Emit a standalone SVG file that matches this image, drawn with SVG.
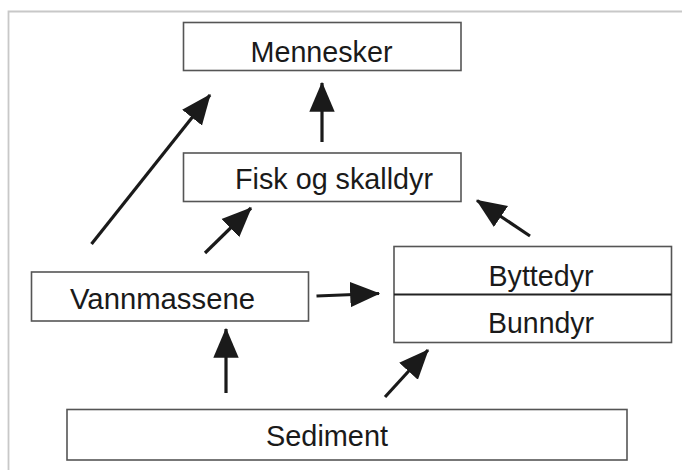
<svg xmlns="http://www.w3.org/2000/svg" width="682" height="470" viewBox="0 0 682 470">
<style>
.box{fill:#fff;stroke:#555;stroke-width:1.6}
.lbl{font-family:"Liberation Sans",Arial,sans-serif;font-size:30px;fill:#1a1a1a;text-anchor:middle}
.arr{stroke:#1a1a1a;stroke-width:3.2;fill:none;marker-end:url(#ah)}
</style>
<defs>
<marker id="ah" markerUnits="userSpaceOnUse" markerWidth="30" markerHeight="30" viewBox="0 0 26 22" refX="25" refY="11" orient="auto">
<path d="M0,0 L26,11 L0,22 Z" fill="#1a1a1a"/>
</marker>
</defs>
<rect x="0" y="0" width="682" height="470" fill="#fff"/>
<path d="M8.5,470 V11.5 H682" fill="none" stroke="#c8c8c8" stroke-width="1.8"/>
<g id="mennesker">
<rect class="box" x="183.5" y="22.5" width="277.5" height="48"/>
<text class="lbl" x="321.5" y="61.7" textLength="142" lengthAdjust="spacingAndGlyphs">Mennesker</text>
</g>
<g id="fisk">
<rect class="box" x="183.5" y="153" width="277.5" height="48.5"/>
<text class="lbl" x="334" y="188.5" textLength="198" lengthAdjust="spacingAndGlyphs">Fisk og skalldyr</text>
</g>
<g id="vannmassene">
<rect class="box" x="31.5" y="272" width="277" height="49"/>
<text class="lbl" x="162.5" y="308.5" textLength="185" lengthAdjust="spacingAndGlyphs">Vannmassene</text>
</g>
<g id="byttedyr-bunndyr">
<rect class="box" x="394" y="246.5" width="277.5" height="96"/>
<line x1="394" y1="294.5" x2="671.5" y2="294.5" stroke="#222" stroke-width="2.2"/>
<text class="lbl" x="541" y="286" textLength="105" lengthAdjust="spacingAndGlyphs">Byttedyr</text>
<text class="lbl" x="541" y="333" textLength="106" lengthAdjust="spacingAndGlyphs">Bunndyr</text>
</g>
<g id="sediment">
<rect class="box" x="67" y="409.5" width="560" height="50.5"/>
<text class="lbl" x="327" y="446" textLength="122" lengthAdjust="spacingAndGlyphs">Sediment</text>
</g>
<g id="connectors">
<line class="arr" x1="91.5" y1="244" x2="210" y2="95"/>
<line class="arr" x1="322" y1="142" x2="322" y2="83"/>
<line class="arr" x1="205" y1="253" x2="251" y2="208"/>
<line class="arr" x1="530" y1="236" x2="477" y2="200.5"/>
<line class="arr" x1="316.5" y1="296" x2="379" y2="293.5"/>
<line class="arr" x1="226" y1="393" x2="226" y2="329"/>
<line class="arr" x1="385" y1="397" x2="428" y2="350"/>
</g>
</svg>
